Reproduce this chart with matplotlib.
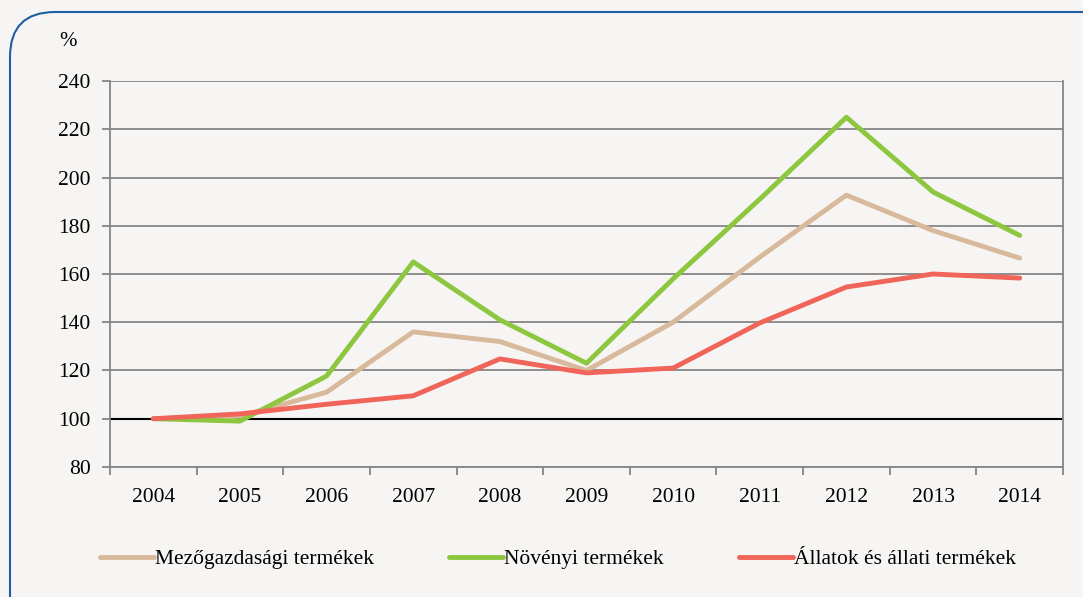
import matplotlib.pyplot as plt
from matplotlib.patches import FancyBboxPatch

years = ['2004', '2005', '2006', '2007', '2008', '2009', '2010', '2011', '2012', '2013', '2014']
mezo = [100, 101, 111, 136, 132, 120, 140, 167, 192.7, 178, 166.6]
noveny = [100, 99, 117.7, 165, 141, 123, 158, 191, 225, 194, 176]
allat = [100, 102, 106, 109.5, 124.8, 119, 121, 139.7, 154.6, 160, 158.3]
labels = ['Mezőgazdasági termékek', 'Növényi termékek', 'Állatok és állati termékek']
colors = ['#d9b99b', '#8dc63f', '#f0645a']

plt.rcParams['font.family'] = ['Liberation Serif', 'DejaVu Serif']
bg = '#f6f5f3'

fig = plt.figure(figsize=(10.83, 5.97), dpi=100, facecolor=bg)
frame = FancyBboxPatch((0.10, -1.0), 11.5, 6.85, boxstyle='round,pad=0,rounding_size=0.45',
                       transform=fig.dpi_scale_trans, fc='none', ec='#1f5fa0', lw=1.5)
fig.patches.append(frame)

ax = fig.add_axes([0.1016, 0.2178, 0.8799, 0.6465])
ax.set_facecolor(bg)
x = range(len(years))
for vals, lab, c in zip([mezo, noveny, allat], labels, colors):
    ax.plot(x, vals, color=c, lw=3.5, label=lab, solid_capstyle='round', zorder=3)
ax.axhline(100, color='black', lw=1.5, zorder=2)

ax.set_xlim(-0.5, len(years) - 0.5)
ax.set_ylim(80, 240)
ax.set_yticks(range(80, 241, 20))
ax.yaxis.grid(True, color='#868686', lw=1.3)
ax.set_axisbelow(True)
ax.set_xticks([i + 0.5 for i in range(-1, len(years))])
ax.set_xticklabels([])
ax.set_xticks(list(x), minor=True)
ax.set_xticklabels(years, minor=True)
ax.tick_params(axis='x', which='minor', length=0, pad=15, labelsize=15.5)
ax.tick_params(axis='x', which='major', length=6, color='#868686', width=1.3)
ax.tick_params(axis='y', length=6, color='#868686', width=1.3, labelsize=15.5, pad=8)
ax.spines['top'].set_visible(False)
for s in ['left', 'right', 'bottom']:
    ax.spines[s].set_color('#868686')
    ax.spines[s].set_linewidth(1.3)

fig.text(0.063, 0.93, '%', fontsize=15, ha='center', va='center')
fig.legend(loc='center', bbox_to_anchor=(0.515, 0.063), ncol=3, frameon=False,
           fontsize=15.5, handlelength=2.5, handletextpad=0.05, columnspacing=3.5)

fig.savefig('out.png', dpi=100, facecolor=bg)
